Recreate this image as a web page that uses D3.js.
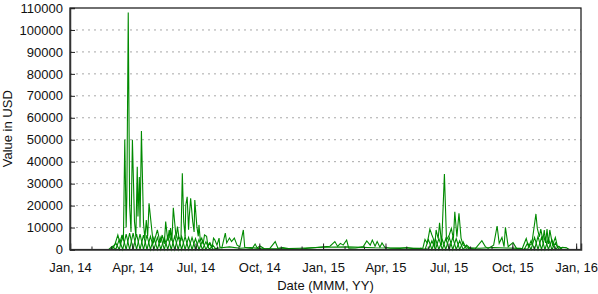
<!DOCTYPE html>
<html>
<head>
<meta charset="utf-8">
<script src="https://cdn.jsdelivr.net/npm/d3@7"></script>
<style>
  html, body { margin: 0; padding: 0; background: #fff; }
  svg { display: block; font-family: "Liberation Sans", Arial, sans-serif; }
</style>
</head>
<body>
<svg id="chart" width="598" height="294"></svg>
<script>
// ---------- data ----------
const mainDates = [
  "2014-02-28","2014-03-02","2014-03-07","2014-03-11","2014-03-14","2014-03-17","2014-03-19","2014-03-21",
  "2014-03-23","2014-03-24","2014-03-26","2014-03-28","2014-03-30","2014-04-01","2014-04-04","2014-04-06",
  "2014-04-08","2014-04-09","2014-04-11","2014-04-12","2014-04-14","2014-04-17","2014-04-19","2014-04-21",
  "2014-04-23","2014-04-25","2014-04-29","2014-05-01","2014-05-03","2014-05-07","2014-05-11","2014-05-14",
  "2014-05-17","2014-05-19","2014-05-22","2014-05-24","2014-05-25","2014-05-26","2014-05-28","2014-05-30",
  "2014-06-02","2014-06-03","2014-06-05","2014-06-07","2014-06-10","2014-06-12","2014-06-14","2014-06-16",
  "2014-06-17","2014-06-19","2014-06-21","2014-06-22","2014-06-24","2014-06-27","2014-06-29","2014-06-30",
  "2014-07-03","2014-07-05","2014-07-06","2014-07-08","2014-07-10","2014-07-12","2014-07-14","2014-07-17",
  "2014-07-19","2014-07-22","2014-07-25","2014-07-27","2014-07-29","2014-08-01","2014-08-04","2014-08-05",
  "2014-08-08","2014-08-13","2014-08-15","2014-08-19","2014-08-22","2014-08-26","2014-08-30","2014-09-03",
  "2014-09-08","2014-09-10","2014-09-15","2014-09-21","2014-09-25","2014-09-28","2014-10-02","2014-10-09",
  "2014-10-16","2014-10-24","2014-10-28","2014-11-04","2014-11-14","2014-11-29","2015-01-01","2015-01-11",
  "2015-01-18","2015-01-22","2015-01-26","2015-01-30","2015-02-04","2015-02-07","2015-02-17","2015-02-28",
  "2015-03-05","2015-03-10","2015-03-13","2015-03-17","2015-03-20","2015-03-24","2015-03-27","2015-03-31",
  "2015-04-08","2015-04-22","2015-05-02","2015-05-11","2015-05-21","2015-05-25","2015-05-28","2015-05-31",
  "2015-06-02","2015-06-04","2015-06-07","2015-06-09","2015-06-11","2015-06-13","2015-06-16","2015-06-18",
  "2015-06-21","2015-06-25","2015-06-28","2015-07-02","2015-07-05","2015-07-08","2015-07-10","2015-07-13",
  "2015-07-16","2015-07-19","2015-07-22","2015-07-27","2015-08-01","2015-08-08","2015-08-18","2015-08-23",
  "2015-08-27","2015-09-04","2015-09-09","2015-09-12","2015-09-16","2015-09-19","2015-09-21","2015-09-25",
  "2015-10-02","2015-10-07","2015-10-15","2015-10-21","2015-10-24","2015-10-29","2015-11-04","2015-11-06",
  "2015-11-09","2015-11-11","2015-11-14","2015-11-16","2015-11-18","2015-11-20","2015-11-22","2015-11-24",
  "2015-11-28","2015-12-02","2015-12-05","2015-12-09","2015-12-18","2015-12-22"
];
const mainValues = [
  0, 500, 2500, 6600, 3000, 6600, 4000, 50000,
  10000, 24000, 108000, 20000, 8000, 50000, 12600, 6000,
  37700, 15000, 33000, 10000, 54000, 12000, 5000, 13400,
  6000, 21000, 8900, 3000, 4300, 8900, 3000, 6600,
  2500, 12700, 4000, 8900, 5000, 9800, 4000, 19000,
  8900, 5000, 10400, 5800, 4000, 34700, 12700, 6000,
  20300, 24000, 9000, 15000, 23300, 12700, 8000, 22500,
  10400, 6000, 11200, 4000, 5200, 2500, 6600, 6000,
  1500, 3000, 1000, 5200, 4300, 2000, 5200, 1300,
  700, 7500, 3000, 5200, 3600, 5200, 2000, 1300,
  8900, 1000, 700, 500, 2500, 700, 1600, 200,
  400, 3600, 500, 900, 300, 200, 1200, 1500,
  3600, 1400, 2800, 2000, 4300, 600, 700, 1300,
  3900, 2000, 4300, 1500, 3600, 1000, 3000, 1000,
  600, 500, 900, 400, 500, 700, 4600, 3000,
  5800, 9300, 6600, 5000, 1000, 8900, 5000, 12200,
  2000, 34400, 4300, 6600, 9600, 5000, 17200, 5800,
  16500, 5200, 2000, 1300, 500, 200, 4000, 1300,
  500, 2000, 10700, 2800, 5500, 1300, 10100, 1300,
  3100, 500, 200, 5000, 1500, 2500, 16200, 9600,
  5800, 9300, 4300, 8900, 3000, 9300, 2500, 8900,
  2000, 5500, 1300, 900, 800, 0
];
const bandDates = [
  "2014-02-26","2014-03-03","2014-03-08","2014-03-13","2014-03-18","2014-03-23","2014-03-28","2014-04-02",
  "2014-04-07","2014-04-12","2014-04-17","2014-04-22","2014-04-27","2014-05-02","2014-05-07","2014-05-12",
  "2014-05-17","2014-05-22","2014-05-27","2014-06-01","2014-06-06","2014-06-11","2014-06-16","2014-06-21",
  "2014-06-26","2014-07-01","2014-07-06","2014-07-11","2014-07-16","2014-07-21","2014-07-26","2014-07-31",
  "2014-08-07","2014-08-19","2014-09-03","2014-09-18","2014-10-03","2014-10-28","2014-11-27","2015-01-01",
  "2015-02-05","2015-03-17","2015-04-26","2015-05-22",
  "2015-05-28","2015-06-02","2015-06-07","2015-06-12","2015-06-17","2015-06-22","2015-06-27","2015-07-02",
  "2015-07-07","2015-07-12","2015-07-17","2015-07-22","2015-07-27","2015-08-01",
  "2015-08-14","2015-09-03","2015-09-23","2015-10-13",
  "2015-10-18","2015-10-23","2015-10-28","2015-11-02","2015-11-07","2015-11-12","2015-11-17","2015-11-22",
  "2015-11-27","2015-12-02","2015-12-07","2015-12-12","2015-12-18"
];
const bandAValues = [
  0, 1500, 0, 4500, 0, 7000, 0, 7500,
  0, 7000, 0, 6500, 0, 5500, 0, 5500,
  0, 6000, 0, 6000, 0, 6000, 0, 5500,
  0, 5000, 0, 4000, 0, 3000, 0, 500,
  800, 1200, 600, 900, 400, 300, 600, 1000,
  1200, 800, 700, 500,
  0, 4500, 0, 5000, 0, 4500, 0, 5500,
  0, 5000, 0, 3500, 0, 800,
  600, 900, 700, 500,
  0, 3000, 0, 5500, 0, 5500, 0, 5000,
  0, 3000, 0, 1000, 800
];
const bandBValues = [
  0, 0, 3000, 0, 6000, 0, 7500, 0,
  7000, 0, 6500, 0, 6000, 0, 5500, 0,
  5500, 0, 6000, 0, 6000, 0, 6000, 0,
  5500, 0, 4500, 0, 3500, 0, 2000, 0,
  null, null, null, null, null, null, null, null,
  null, null, null, null,
  500, 0, 4000, 0, 5000, 0, 5000, 0,
  5500, 0, 4000, 0, 2000, 600,
  null, null, null, null,
  500, 0, 4000, 0, 6000, 0, 5500, 0,
  4500, 0, 1500, 0, null
];
const yTickValues = [0, 10000, 20000, 30000, 40000, 50000, 60000, 70000, 80000, 90000, 100000, 110000];
const xTickLabels = ["2014-01-01","2014-04-01","2014-07-01","2014-10-01","2015-01-01","2015-04-01","2015-07-01","2015-10-01","2016-01-01"];
const xDomain = ["2014-01-01", "2016-01-08"];
const yMax = 110000;
const xTitle = "Date (MMM, YY)";
const yTitle = "Value in USD";

// ---------- drawing ----------
(function () {
const parse = d3.utcParse("%Y-%m-%d");
const svg = d3.select("#chart");
const pL = 70, pR = 581, pT = 8, pB = 249.5;
const green = "#008a00";

const x = d3.scaleUtc().domain(xDomain.map(parse)).range([pL, pR]);
const y = d3.scaleLinear().domain([0, yMax]).range([pB, pT]);

// grid
svg.append("g").selectAll("line").data(yTickValues.filter(v => v > 0 && v < yMax)).join("line")
  .attr("x1", pL).attr("x2", pR)
  .attr("y1", d => y(d)).attr("y2", d => y(d))
  .attr("stroke", "#a8a8a8").attr("stroke-width", 1).attr("stroke-dasharray", "2,4");

// lines
const mk = (dates, vals) => dates.map((d, i) => ({ t: parse(d), v: vals[i] }));
const line = d3.line().defined(d => d.v != null).x(d => x(d.t)).y(d => y(d.v));
const series = [mk(bandDates, bandAValues), mk(bandDates, bandBValues), mk(mainDates, mainValues)];
svg.append("g").selectAll("path").data(series).join("path")
  .attr("d", line).attr("fill", "none").attr("stroke", green)
  .attr("stroke-width", 1.1).attr("stroke-linejoin", "miter");

// frame
svg.append("rect").attr("x", pL).attr("y", pT).attr("width", pR - pL).attr("height", pB - pT)
  .attr("fill", "none").attr("stroke", "#111").attr("stroke-width", 1.2);

// minor monthly ticks
const monthTicks = x.ticks(d3.utcMonth.every(1));
svg.append("g").attr("transform", `translate(0,${pB})`)
  .call(d3.axisBottom(x).tickValues(monthTicks).tickSize(-3).tickFormat(""))
  .call(g => g.select(".domain").remove())
  .call(g => g.selectAll(".tick line").attr("stroke", "#222"));

// major x axis
svg.append("g").attr("transform", `translate(0,${pB})`)
  .call(d3.axisBottom(x).tickValues(xTickLabels.map(parse)).tickSize(-6).tickPadding(13)
    .tickFormat(d3.utcFormat("%b, %y")))
  .call(g => g.select(".domain").attr("stroke", "#333").attr("stroke-width", 1.5))
  .call(g => g.selectAll(".tick line").attr("stroke", "#222"))
  .call(g => g.selectAll("text").attr("font-size", 13).attr("fill", "#111")
    .attr("font-family", "Liberation Sans, Arial, sans-serif"));

// y axis
svg.append("g").attr("transform", `translate(${pL},0)`)
  .call(d3.axisLeft(y).tickValues(yTickValues).tickSize(-5).tickPadding(7).tickFormat(d3.format("d")))
  .call(g => g.select(".domain").attr("stroke", "#333").attr("stroke-width", 1.5))
  .call(g => g.selectAll(".tick line").attr("stroke", "#222"))
  .call(g => g.selectAll("text").attr("font-size", 13).attr("fill", "#111")
    .attr("font-family", "Liberation Sans, Arial, sans-serif"));

// titles
svg.append("text").attr("x", (pL + pR) / 2).attr("y", 290).attr("text-anchor", "middle")
  .attr("font-size", 13).attr("fill", "#111").text(xTitle);
svg.append("text").attr("transform", `translate(12,${(pT + pB) / 2}) rotate(-90)`)
  .attr("text-anchor", "middle").attr("font-size", 13).attr("fill", "#111").text(yTitle);
})();
</script>
</body>
</html>
